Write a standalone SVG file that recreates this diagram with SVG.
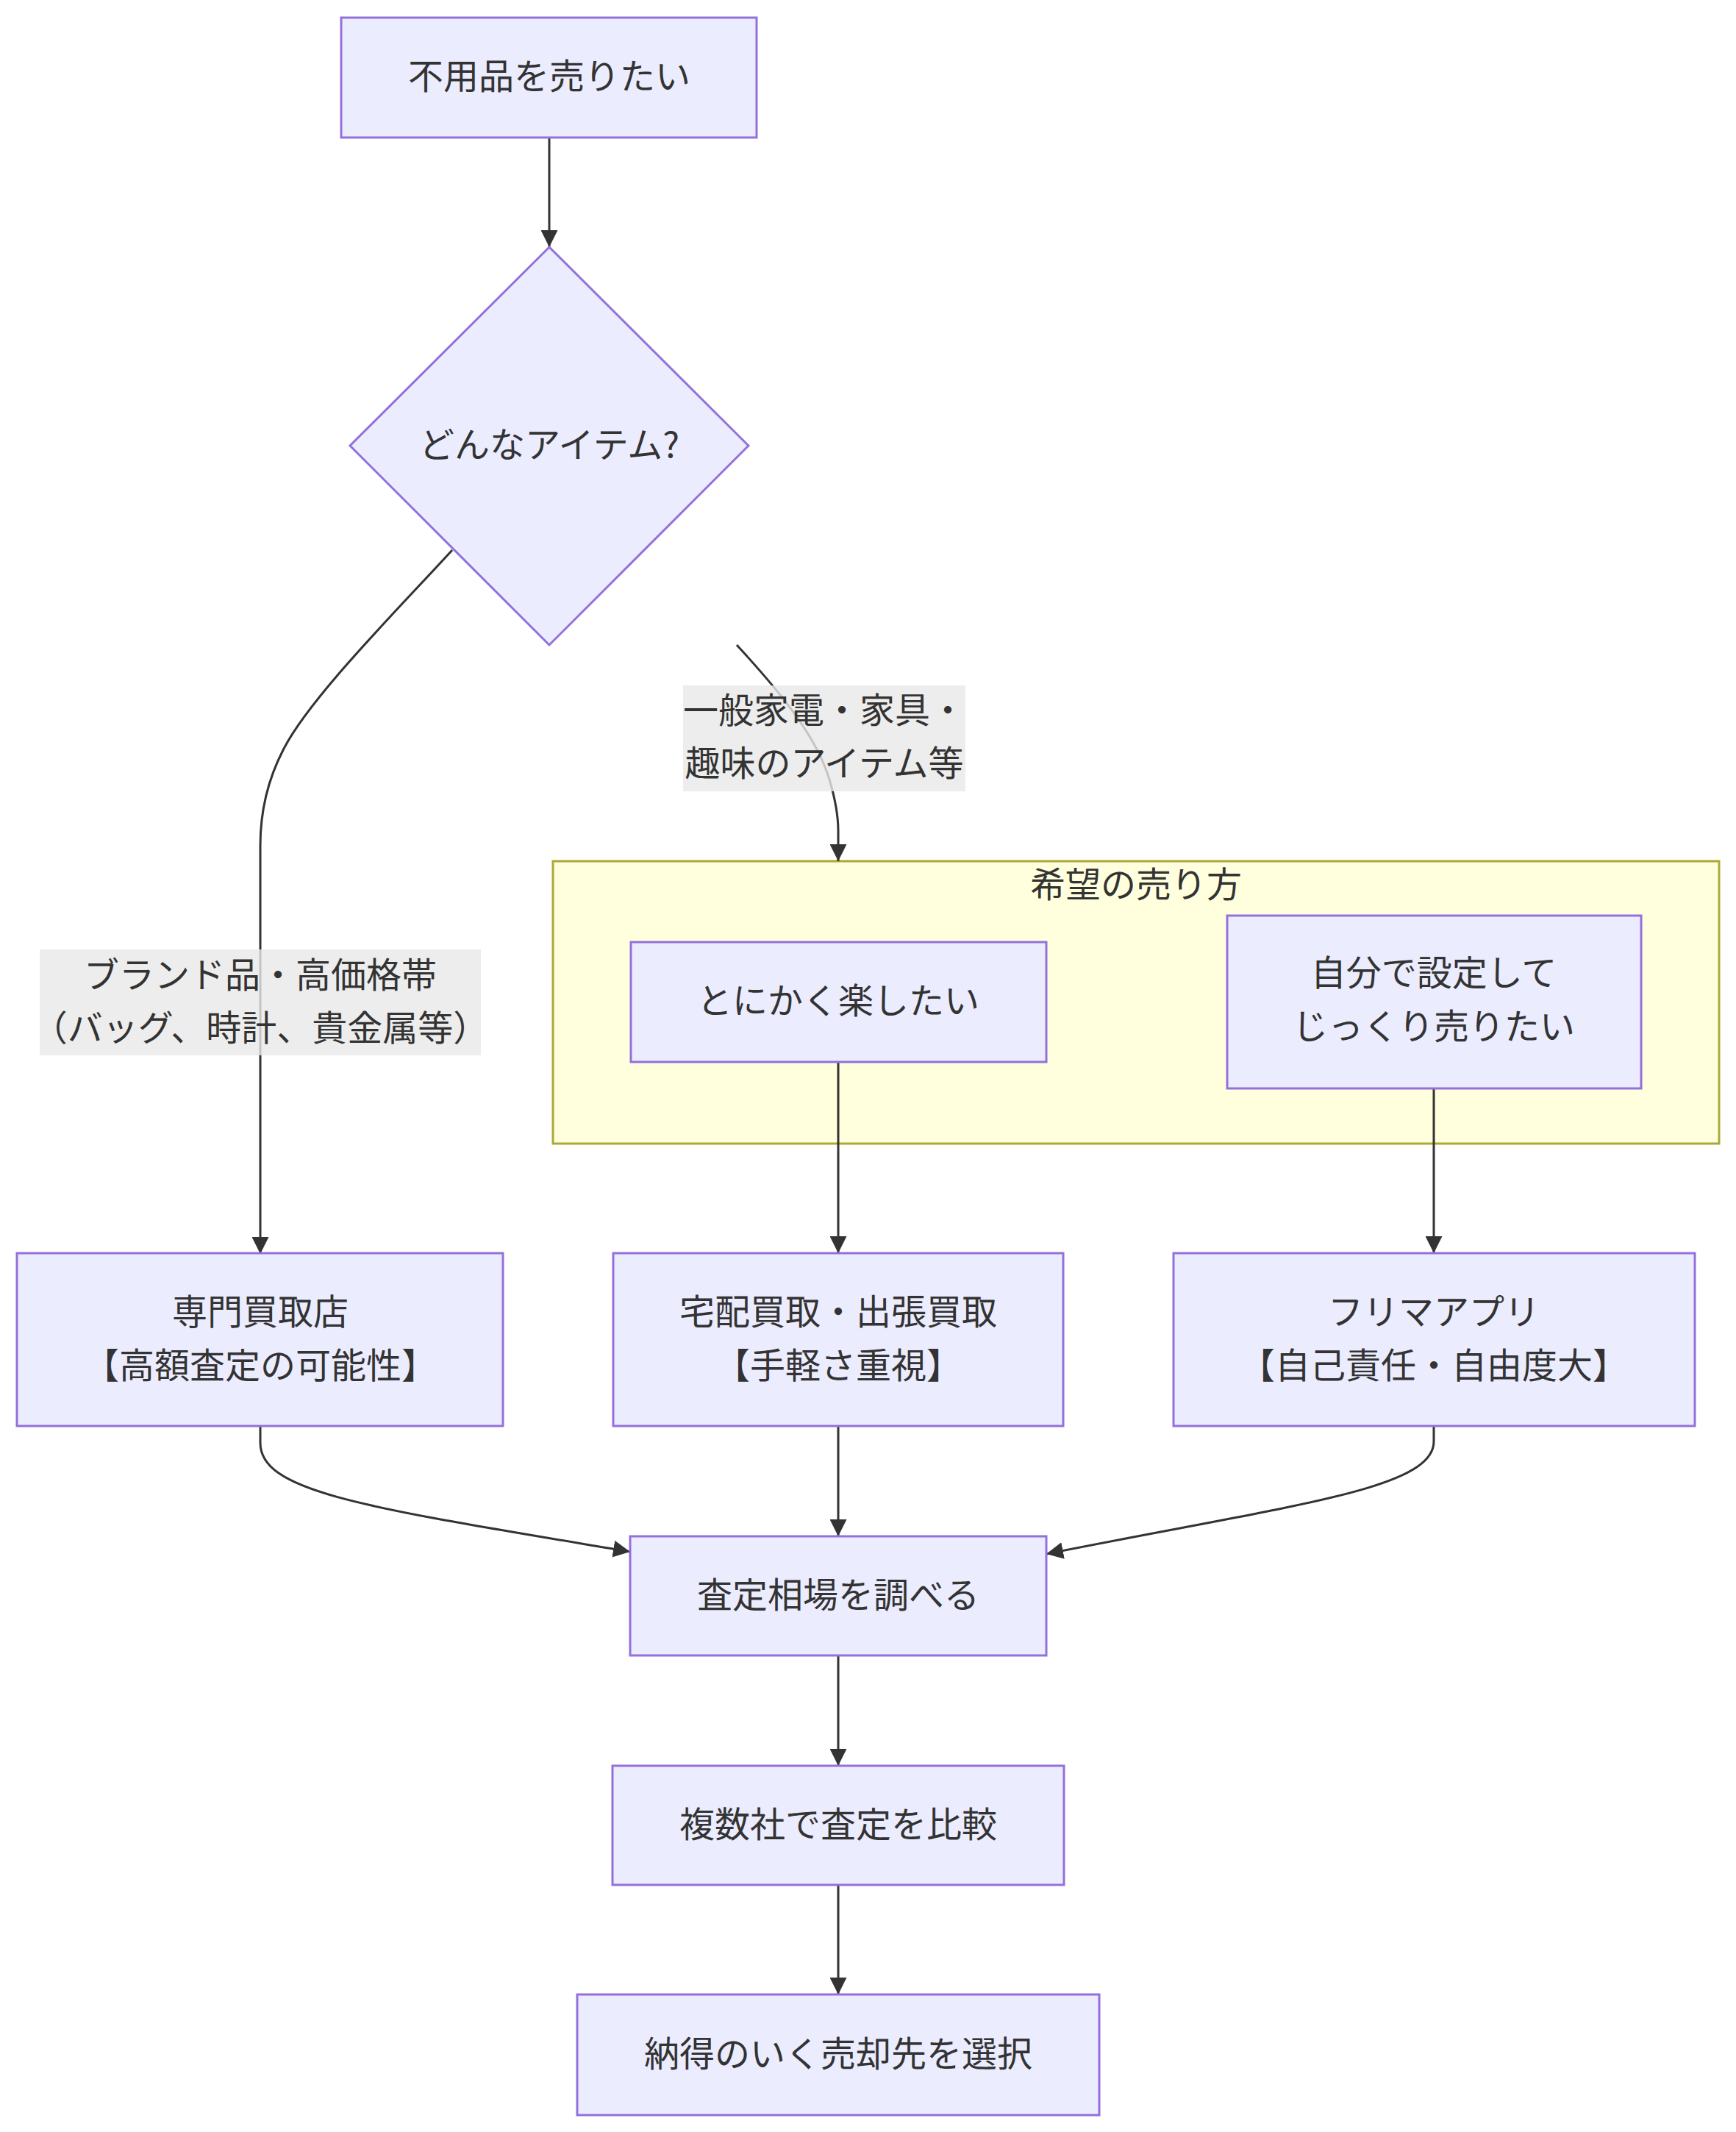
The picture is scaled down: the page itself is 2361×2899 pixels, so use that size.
<svg xmlns="http://www.w3.org/2000/svg" width="2361" height="2899" viewBox="0 0 2361 2899">
<style>
.node rect, .node polygon { fill:#ECECFF; stroke:#9370DB; stroke-width:3; }
.cluster rect { fill:#ffffde; stroke:#aaaa33; stroke-width:3; }
.edge { fill:none; stroke:#333333; stroke-width:3; marker-end:url(#arrow); }
.lbg { fill:#e8e8e8; fill-opacity:0.8; }
.t { font-family:"Noto Sans CJK JP","Noto Sans",sans-serif; font-size:48px; fill:#333333; text-anchor:middle; dominant-baseline:central; }
</style>
<defs>
<marker id="arrow" viewBox="0 0 10 10" refX="10" refY="5" markerWidth="23" markerHeight="23" markerUnits="userSpaceOnUse" orient="auto">
<path d="M0,0 L10,5 L0,10 z" fill="#333333"/>
</marker>
</defs>
<rect x="0" y="0" width="2361" height="2899" fill="#ffffff"/>

<g id="cluster-hope" class="cluster">
<rect x="752" y="1171" width="1586" height="384"/>
<text class="t" x="1545" y="1199">希望の売り方</text>
</g>

<g id="connectors">
<path class="edge" d="M747,187 L747,336"/>
<path class="edge" d="M615,748 C540,830 420,950 385,1020 Q354,1080 354,1150 L354,1705"/>
<path class="edge" d="M1002,877 C1060,940 1110,1000 1128,1060 Q1140,1100 1140,1130 L1140,1171"/>
<path class="edge" d="M1140,1444 L1140,1704"/>
<path class="edge" d="M1950,1480 L1950,1704"/>
<path class="edge" d="M354,1939 L354,1962 C354,2030 500,2050 857,2110"/>
<path class="edge" d="M1140,1939 L1140,2089"/>
<path class="edge" d="M1950,1939 L1950,1960 C1950,2025 1760,2046 1423,2113"/>
<path class="edge" d="M1140,2251 L1140,2401"/>
<path class="edge" d="M1140,2563 L1140,2712"/>
</g>

<g id="edge-labels">
<g id="label-general">
<rect class="lbg" x="929" y="932" width="384" height="144"/>
<text class="t" x="1121" y="962">一般家電・家具・</text>
<text class="t" x="1121" y="1034">趣味のアイテム等</text>
</g>
<g id="label-brand">
<rect class="lbg" x="54" y="1291" width="600" height="144"/>
<text class="t" x="354" y="1322">ブランド品・高価格帯</text>
<text class="t" x="354" y="1394">（バッグ、時計、貴金属等）</text>
</g>
</g>

<g id="node-start" class="node">
<rect x="464" y="24" width="565" height="163"/>
<text class="t" x="747" y="100">不用品を売りたい</text>
</g>

<g id="node-decision" class="node">
<polygon points="747,336 1018,606 747,877 476,606"/>
<text class="t" x="747" y="601">どんなアイテム?</text>
</g>

<g id="node-easy" class="node">
<rect x="858" y="1281" width="565" height="163"/>
<text class="t" x="1140" y="1357">とにかく楽したい</text>
</g>

<g id="node-self" class="node">
<rect x="1669" y="1245" width="563" height="235"/>
<text class="t" x="1950" y="1319">自分で設定して</text>
<text class="t" x="1950" y="1392">じっくり売りたい</text>
</g>

<g id="node-shop" class="node">
<rect x="23" y="1704" width="661" height="235"/>
<text class="t" x="354" y="1780">専門買取店</text>
<text class="t" x="354" y="1853">【高額査定の可能性】</text>
</g>

<g id="node-delivery" class="node">
<rect x="834" y="1704" width="612" height="235"/>
<text class="t" x="1140" y="1780">宅配買取・出張買取</text>
<text class="t" x="1140" y="1853">【手軽さ重視】</text>
</g>

<g id="node-flea" class="node">
<rect x="1596" y="1704" width="709" height="235"/>
<text class="t" x="1950" y="1780">フリマアプリ</text>
<text class="t" x="1950" y="1853">【自己責任・自由度大】</text>
</g>

<g id="node-research" class="node">
<rect x="857" y="2089" width="566" height="162"/>
<text class="t" x="1140" y="2165">査定相場を調べる</text>
</g>

<g id="node-compare" class="node">
<rect x="833" y="2401" width="614" height="162"/>
<text class="t" x="1140" y="2477">複数社で査定を比較</text>
</g>

<g id="node-choose" class="node">
<rect x="785" y="2712" width="710" height="164"/>
<text class="t" x="1140" y="2789">納得のいく売却先を選択</text>
</g>
</svg>
